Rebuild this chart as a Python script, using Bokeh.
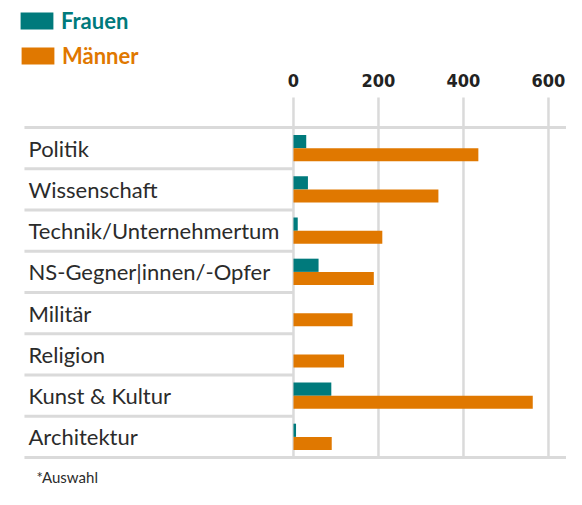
from bokeh.plotting import figure
from bokeh.models import Range1d, Legend, LegendItem, Label
from bokeh.core.properties import value
from bokeh.embed import file_html
from bokeh.resources import INLINE

categories = ["Politik", "Wissenschaft", "Technik/Unternehmertum",
              "NS-Gegner|innen/-Opfer", "Militär", "Religion",
              "Kunst & Kultur", "Architektur"]
frauen = [30, 34, 10, 59, 0, 0, 89, 6]
maenner = [435, 341, 209, 189, 139, 119, 563, 90]
ticks = [0, 200, 400, 600]
tick_labels = ["0", "200", "400", "600"]
footnote = "*Auswahl"

TEAL = "#007a7c"
ORANGE = "#e07800"
GRID = "#dadada"
TEXT = "#2b2b2b"

rows = list(range(len(categories)))
ROW_PX = 41.25
LEFT = -633
RIGHT = 642.4
TOP = rows[0] - 0.5
BOTTOM = rows[-1] + 0.5
GRID_TOP = TOP - 30 / ROW_PX
TICK_Y = TOP - 47 / ROW_PX

p = figure(width=566, height=489,
           x_range=Range1d(-689.4, RIGHT),
           y_range=Range1d(BOTTOM + 32 / ROW_PX, TOP - 127 / ROW_PX),
           x_axis_location=None, y_axis_location=None,
           output_backend="svg", toolbar_location=None,
           min_border=0, outline_line_color=None,
           background_fill_color="white")
p.xgrid.visible = False
p.ygrid.visible = False

# vertical grid lines at the tick values
p.segment(x0=ticks, x1=ticks, y0=[GRID_TOP] * len(ticks), y1=[BOTTOM] * len(ticks),
          line_color=GRID, line_width=2.5)

# tick labels (top axis)
p.text(x=ticks, y=[TICK_Y] * len(ticks), text=tick_labels,
       text_align="center", text_baseline="alphabetic",
       text_font=value("DejaVu Sans Condensed"), text_font_style="bold",
       text_font_size="18px", text_color="#222222")

# row separators (left part) and full-width top/bottom lines
sep_y = [r + 0.5 for r in rows[:-1]]
p.segment(x0=[LEFT] * len(sep_y), x1=[0] * len(sep_y), y0=sep_y, y1=sep_y,
          line_color=GRID, line_width=3)
p.segment(x0=[LEFT, LEFT], x1=[RIGHT, RIGHT], y0=[TOP, BOTTOM],
          y1=[TOP, BOTTOM], line_color=GRID, line_width=3)

# category labels
p.text(x=[-623.5] * len(rows), y=rows, text=categories, text_baseline="middle",
       text_align="left", text_font=value("Lato"), text_font_size="22px",
       text_color=TEXT)

rf = p.hbar(y=[r - 0.16 for r in rows], left=0, right=frauen, height=0.32,
            fill_color=TEAL, line_color=None)
rm = p.hbar(y=[r + 0.16 for r in rows], left=0, right=maenner, height=0.32,
            fill_color=ORANGE, line_color=None)


def make_legend(label, rend, color, loc):
    return Legend(items=[LegendItem(label=label, renderers=[rend])],
                  location=loc, label_text_color=color,
                  label_text_font="Lato", label_text_font_style="bold",
                  label_text_font_size="22px", glyph_width=41, glyph_height=21,
                  label_height=21, label_standoff=4, padding=0, margin=0,
                  spacing=0, background_fill_alpha=0, border_line_color=None)


p.add_layout(make_legend("Frauen", rf, TEAL, (16, 455)))
p.add_layout(make_legend("Männer", rm, ORANGE, (17, 420)))

p.add_layout(Label(x=36, y=4, x_units="screen", y_units="screen",
                   text=footnote, text_baseline="bottom",
                   text_font="Lato", text_font_size="15px", text_color=TEXT))

open("out.html", "w").write(file_html(p, INLINE))
